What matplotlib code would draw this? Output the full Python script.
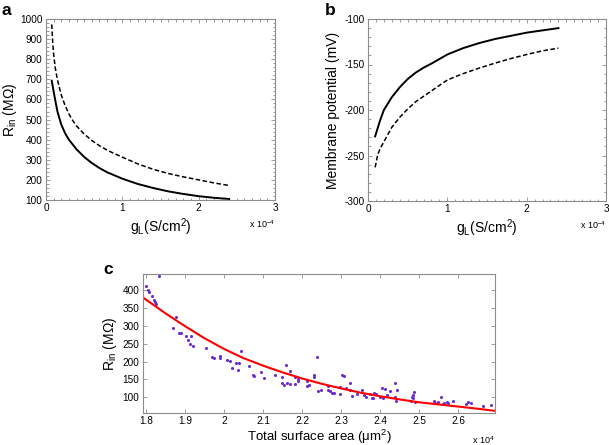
import matplotlib
matplotlib.use("Agg")
import matplotlib.pyplot as plt
from matplotlib.ticker import MultipleLocator, FixedLocator

plt.rcParams['font.family'] = ['Liberation Sans', 'DejaVu Sans']
plt.rcParams['mathtext.fontset'] = 'custom'
plt.rcParams['mathtext.rm'] = 'Liberation Sans'
plt.rcParams['mathtext.it'] = 'Liberation Sans'
plt.rcParams['axes.unicode_minus'] = False

# ---------------- data ----------------
# panel a : leak conductance gL (x 1e-4 S/cm^2) vs input resistance (MOhm)
gL_a_solid = [0.075, 0.12, 0.15, 0.2, 0.25, 0.3, 0.4, 0.5, 0.6, 0.7, 0.8, 1.0, 1.2, 1.4,
              1.6, 1.8, 2.0, 2.2, 2.4]
rin_solid = [693, 598, 540, 475, 432, 400, 352, 314, 284, 259, 238, 206, 180, 160,
             143, 130, 119, 111, 105]
gL_a_dashed = [0.075, 0.09, 0.1, 0.12, 0.15, 0.2, 0.25, 0.3, 0.35, 0.4, 0.5, 0.6, 0.7,
               0.8, 0.9, 1.0, 1.2, 1.4, 1.6, 1.8, 2.0, 2.2, 2.4]
rin_dashed = [973, 870, 825, 760, 697, 622, 570, 528, 495, 468, 428, 396, 370,
              348, 330, 313, 280, 253, 232, 215, 200, 185, 172]

# panel b : gL vs membrane potential (mV)
gL_b_solid = [0.09, 0.15, 0.2, 0.3, 0.4, 0.5, 0.6, 0.7, 0.8, 1.0, 1.2, 1.4, 1.6, 1.8,
              2.0, 2.2, 2.4]
vm_solid = [-229, -212, -200, -186, -175, -166, -159, -153.5, -149, -139, -132, -126.5,
            -122, -118.5, -115, -112.5, -110]
gL_b_dashed = [0.09, 0.12, 0.15, 0.2, 0.3, 0.4, 0.5, 0.6, 0.7, 0.8, 1.0, 1.2, 1.4, 1.6,
               1.8, 2.0, 2.2, 2.4]
vm_dashed = [-263, -250, -243, -235, -219, -208, -199, -191, -185, -179, -167, -160,
             -154, -148.5, -143.5, -139, -135, -132]

# panel c : total surface area (x 1e4 um^2) vs input resistance (MOhm)
area = [1.800, 1.807, 1.808, 1.815, 1.820, 1.823, 1.826, 1.833, 1.870, 1.878, 1.885, 1.889,
        1.904, 1.907, 1.913, 1.916, 1.921, 1.954, 1.969, 1.974, 1.990, 1.990, 2.007, 2.015,
        2.020, 2.031, 2.036, 2.039, 2.044, 2.064, 2.075, 2.078, 2.094, 2.103, 2.132, 2.148,
        2.150, 2.155, 2.159, 2.161, 2.168, 2.168, 2.183, 2.183, 2.189, 2.191, 2.212, 2.214,
        2.218, 2.230, 2.231, 2.238, 2.242, 2.248, 2.267, 2.267, 2.271, 2.276, 2.281, 2.298,
        2.298, 2.303, 2.308, 2.313, 2.322, 2.324, 2.329, 2.340, 2.353, 2.359, 2.365, 2.374,
        2.378, 2.381, 2.384, 2.389, 2.399, 2.404, 2.408, 2.412, 2.417, 2.425, 2.438, 2.438,
        2.441, 2.442, 2.480, 2.482, 2.483, 2.485, 2.487, 2.489, 2.538, 2.540, 2.549, 2.555,
        2.561, 2.564, 2.570, 2.574, 2.586, 2.621, 2.624, 2.632, 2.664, 2.685]
rin_c = [413, 402, 396, 383, 372, 368, 363, 441, 295, 325, 281, 280,
         271, 260, 251, 271, 244, 237, 214, 209, 216, 209, 206, 201,
         182, 195, 176, 195, 231, 188, 164, 160, 171, 154, 162, 141,
         156, 135, 190, 139, 174, 137, 158, 137, 152, 147, 147, 132,
         134, 164, 158, 214, 117, 120, 132, 121, 117, 113, 113, 128,
         110, 162, 160, 127, 139, 121, 104, 108, 121, 106, 102, 109,
         99, 99, 111, 109, 100, 125, 99, 123, 107, 119, 139, 101,
         90, 121, 90, 102, 97, 106, 116, 88, 90, 84, 86, 102,
         81, 83, 87, 84, 90, 81, 87, 84, 76, 78]
fit_x = [1.793, 1.85, 1.9, 1.95, 2.0, 2.05, 2.1, 2.15, 2.2, 2.25, 2.3, 2.35, 2.4,
         2.45, 2.5, 2.55, 2.6, 2.65, 2.694]
fit_y = [380, 336, 300, 266, 236, 210, 189, 170, 153, 138, 125, 113, 103,
         94, 86, 80, 74, 68, 62]

# ---------------- figure ----------------
W, H = 609, 445
fig = plt.figure(figsize=(W / 100, H / 100), dpi=100)

def box(l, t, r, b):
    return [l / W, 1 - b / H, (r - l) / W, (b - t) / H]

frame = '0.55'
tick_fs = 7.2
lab_fs = 10

def style(ax):
    for s in ax.spines.values():
        s.set_color(frame)
        s.set_linewidth(0.8)
    ax.tick_params(which='both', direction='in', top=True, right=True,
                   color=frame, labelsize=tick_fs, pad=2.5, width=0.6)
    ax.tick_params(which='major', length=3)
    ax.tick_params(which='minor', length=1.8)

dash = (0, (3, 1.6))

# panel a
axa = fig.add_axes(box(46, 19, 275, 200))
axa.plot(gL_a_solid, rin_solid, color='black', lw=1.4)
axa.plot(gL_a_dashed, rin_dashed, color='black', lw=1.1, ls=dash)
axa.set_xlim(0, 3)
axa.set_ylim(100, 1000)
axa.xaxis.set_major_locator(MultipleLocator(1))
axa.xaxis.set_minor_locator(MultipleLocator(0.1))
axa.yaxis.set_major_locator(MultipleLocator(100))
axa.yaxis.set_minor_locator(MultipleLocator(20))
style(axa)
axa.set_ylabel('R$_{\\rm in}$ (MΩ)', fontsize=lab_fs)
axa.yaxis.set_label_coords(-0.12, 0.5)
axa.set_xlabel('g$_{\\rm L}$(S/cm$^2$)', fontsize=lab_fs)
axa.xaxis.set_label_coords(0.5, -0.09)
axa.text(1.0, -0.1, 'x 10$^{-4}$', transform=axa.transAxes, ha='right', va='top', fontsize=6.5)

# panel b
axb = fig.add_axes(box(368, 19, 606, 201))
axb.plot(gL_b_solid, vm_solid, color='black', lw=1.4)
axb.plot(gL_b_dashed, vm_dashed, color='black', lw=1.1, ls=dash)
axb.set_xlim(0, 3)
axb.set_ylim(-300, -100)
axb.xaxis.set_major_locator(MultipleLocator(1))
axb.xaxis.set_minor_locator(MultipleLocator(0.1))
axb.yaxis.set_major_locator(MultipleLocator(50))
axb.yaxis.set_minor_locator(MultipleLocator(10))
style(axb)
axb.set_ylabel('Membrane potential (mV)', fontsize=lab_fs)
axb.yaxis.set_label_coords(-0.118, 0.5)
axb.set_xlabel('g$_{\\rm L}$(S/cm$^2$)', fontsize=lab_fs)
axb.xaxis.set_label_coords(0.5, -0.09)
axb.text(1.0, -0.1, 'x 10$^{-4}$', transform=axb.transAxes, ha='right', va='top', fontsize=6.5)

# panel c
axc = fig.add_axes(box(143, 274, 495, 413))
axc.plot(area, rin_c, ls='none', marker='o', ms=2.2, mew=0, color='#6a2ad0')
axc.plot(fit_x, fit_y, color='red', lw=1.5)
axc.set_xlim(1.793, 2.694)
axc.set_ylim(56, 446)
axc.xaxis.set_major_locator(FixedLocator([1.8, 1.9, 2.0, 2.1, 2.2, 2.3, 2.4, 2.5, 2.6]))
axc.set_xticklabels(['1.8', '1.9', '2', '2.1', '2.2', '2.3', '2.4', '2.5', '2.6'])
axc.yaxis.set_major_locator(FixedLocator([100, 150, 200, 250, 300, 350, 400]))
style(axc)
axc.set_ylabel('R$_{\\rm in}$ (MΩ)', fontsize=lab_fs)
axc.yaxis.set_label_coords(-0.068, 0.5)
axc.set_xlabel('Total surface area (μm$^2$)', fontsize=9.5, labelpad=0)
axc.xaxis.set_label_coords(0.5, -0.105)
axc.text(1.0, -0.15, 'x 10$^4$', transform=axc.transAxes, ha='right', va='top', fontsize=6.5)

# panel letters
fig.text(1 / W, 1 - 3 / H, 'a', fontsize=12.5, fontweight='bold', va='top', ha='left')
fig.text(325 / W, 1 - 3 / H, 'b', fontsize=12.5, fontweight='bold', va='top', ha='left')
fig.text(103 / W, 1 - 262 / H, 'c', fontsize=12.5, fontweight='bold', va='top', ha='left')

fig.savefig('out.png', dpi=100)
